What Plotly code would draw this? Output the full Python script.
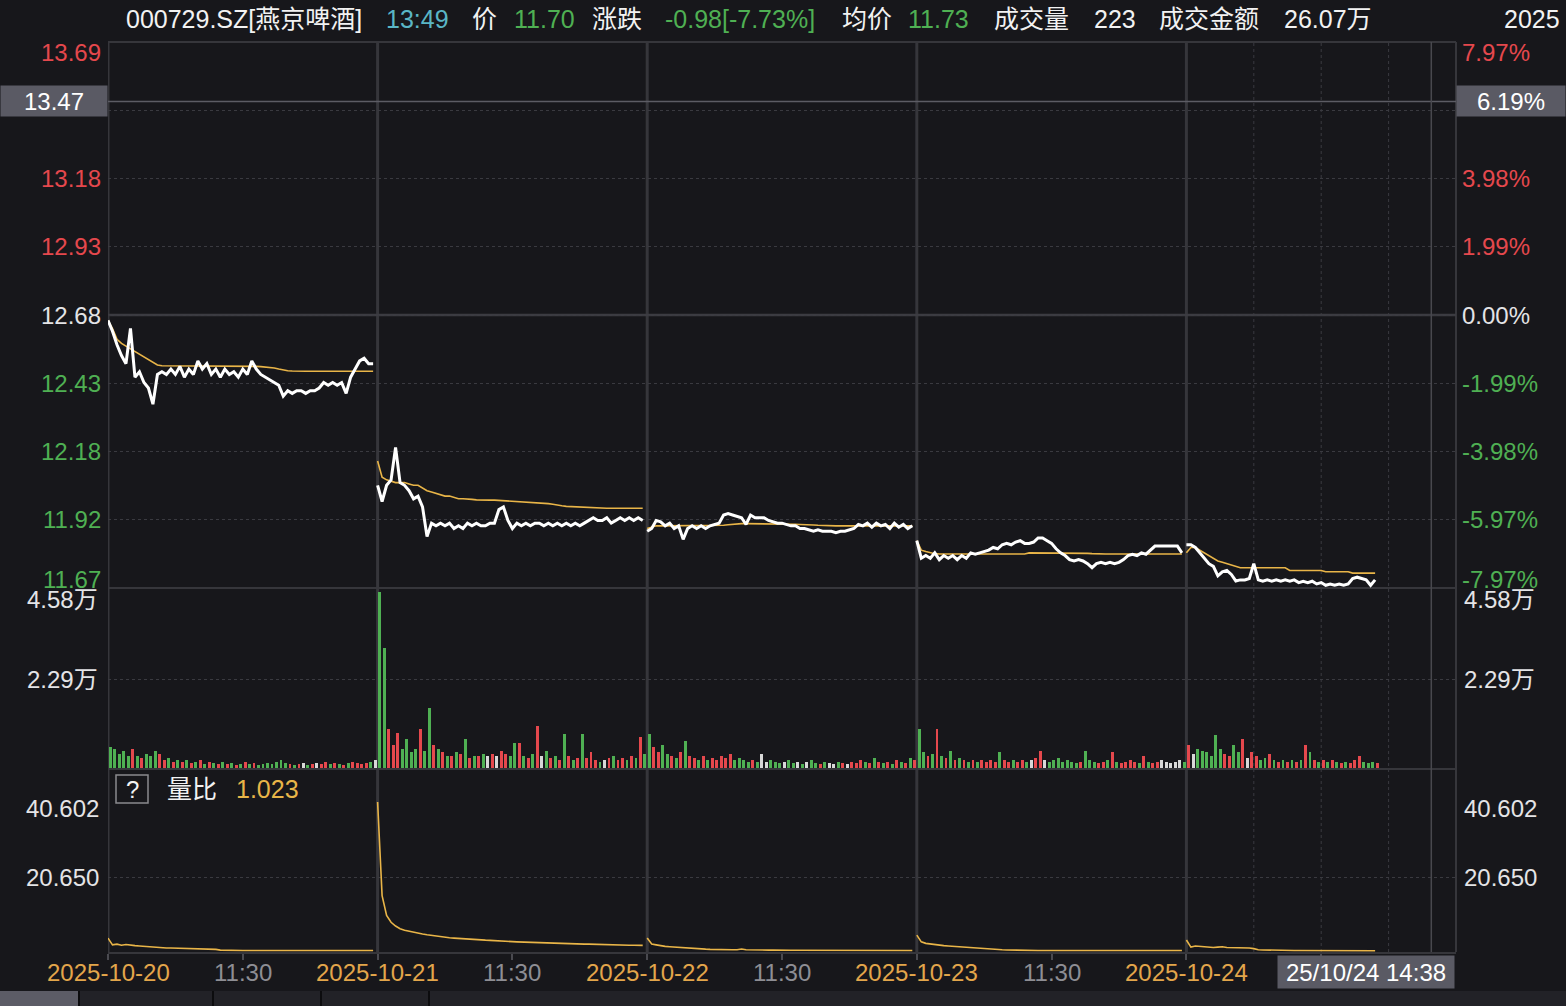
import plotly.graph_objects as go

# ---------------- data ----------------
dates = ["2025-10-20", "2025-10-21", "2025-10-22", "2025-10-23", "2025-10-24"]
step_minutes = 4
minutes_per_day = 240
prev_close = 12.68

price_d1 = [12.66, 12.62, 12.57, 12.53, 12.50, 12.63, 12.45, 12.47, 12.43, 12.41,
            12.35, 12.46, 12.47, 12.46, 12.48, 12.46, 12.49, 12.45, 12.48, 12.46,
            12.51, 12.48, 12.50, 12.46, 12.48, 12.45, 12.48, 12.46, 12.47, 12.45,
            12.48, 12.46, 12.51, 12.48, 12.46, 12.45, 12.44, 12.43, 12.42, 12.38,
            12.40, 12.39, 12.40, 12.40, 12.39, 12.40, 12.40, 12.41, 12.43, 12.42,
            12.43, 12.42, 12.43, 12.39, 12.45, 12.48, 12.51, 12.52, 12.50, 12.50]
price_d2 = [12.05, 11.99, 12.05, 12.07, 12.19, 12.06, 12.05, 12.03, 12.00, 12.01,
            11.97, 11.86, 11.91, 11.90, 11.91, 11.90, 11.91, 11.89, 11.90, 11.89,
            11.91, 11.90, 11.91, 11.90, 11.90, 11.91, 11.91, 11.96, 11.97, 11.92,
            11.89, 11.91, 11.90, 11.91, 11.90, 11.91, 11.91, 11.90, 11.91, 11.90,
            11.91, 11.90, 11.91, 11.90, 11.91, 11.90, 11.91, 11.92, 11.93, 11.92,
            11.92, 11.93, 11.91, 11.92, 11.93, 11.92, 11.93, 11.92, 11.93, 11.92]
price_d3 = [11.88, 11.89, 11.92, 11.915, 11.90, 11.91, 11.89, 11.90, 11.85, 11.89,
            11.90, 11.89, 11.90, 11.89, 11.90, 11.905, 11.91, 11.94, 11.945, 11.94,
            11.935, 11.93, 11.905, 11.94, 11.93, 11.93, 11.93, 11.92, 11.915, 11.91,
            11.91, 11.905, 11.90, 11.90, 11.89, 11.89, 11.885, 11.88, 11.885, 11.88,
            11.88, 11.88, 11.875, 11.88, 11.88, 11.885, 11.89, 11.905, 11.90, 11.91,
            11.895, 11.91, 11.90, 11.905, 11.89, 11.91, 11.895, 11.905, 11.89, 11.90]
price_d4 = [11.845, 11.78, 11.79, 11.78, 11.80, 11.775, 11.79, 11.78, 11.79, 11.775,
            11.79, 11.78, 11.80, 11.795, 11.80, 11.805, 11.81, 11.82, 11.815, 11.83,
            11.835, 11.83, 11.84, 11.845, 11.835, 11.835, 11.84, 11.855, 11.855, 11.845,
            11.835, 11.815, 11.80, 11.79, 11.775, 11.77, 11.775, 11.77, 11.76, 11.745,
            11.76, 11.765, 11.76, 11.765, 11.76, 11.765, 11.775, 11.79, 11.795, 11.79,
            11.80, 11.795, 11.81, 11.825, 11.825, 11.825, 11.825, 11.825, 11.825, 11.80]
price_d5 = [11.83, 11.83, 11.82, 11.80, 11.78, 11.76, 11.75, 11.715, 11.73, 11.735,
            11.72, 11.696, 11.70, 11.70, 11.705, 11.76, 11.70, 11.695, 11.70, 11.695,
            11.70, 11.695, 11.70, 11.695, 11.70, 11.69, 11.695, 11.69, 11.695, 11.685,
            11.69, 11.68, 11.685, 11.68, 11.685, 11.68, 11.685, 11.705, 11.71, 11.705,
            11.70, 11.68, 11.70]

avg_d1 = [12.66, 12.63, 12.59, 12.575, 12.565, 12.555, 12.545, 12.535, 12.525, 12.515,
          12.505, 12.495, 12.492, 12.492, 12.492, 12.492, 12.492, 12.492, 12.492, 12.492,
          12.492, 12.492, 12.492, 12.492, 12.492, 12.492, 12.492, 12.491, 12.491, 12.491,
          12.491, 12.490, 12.490, 12.490, 12.489, 12.488, 12.486, 12.484, 12.480, 12.476,
          12.474, 12.473, 12.472, 12.472, 12.472, 12.472, 12.472, 12.472, 12.472, 12.472,
          12.472, 12.472, 12.472, 12.472, 12.472, 12.472, 12.472, 12.472, 12.472, 12.472]
avg_d2 = [12.14, 12.08, 12.07, 12.065, 12.06, 12.06, 12.06, 12.055, 12.05, 12.05,
          12.04, 12.03, 12.025, 12.02, 12.015, 12.01, 12.01, 12.005, 12.0, 12.0,
          12.0, 11.998, 11.996, 11.995, 11.995, 11.995, 11.995, 11.994, 11.993, 11.992,
          11.99, 11.99, 11.99, 11.988, 11.986, 11.985, 11.984, 11.983, 11.982, 11.98,
          11.976, 11.974, 11.972, 11.971, 11.97, 11.97, 11.97, 11.969, 11.968, 11.967,
          11.966, 11.965, 11.965, 11.965, 11.965, 11.965, 11.965, 11.965, 11.965, 11.965]
avg_d3 = [11.89, 11.895, 11.90, 11.90, 11.90, 11.90, 11.90, 11.90, 11.90, 11.90,
          11.90, 11.90, 11.90, 11.90, 11.90, 11.90, 11.90, 11.902, 11.904, 11.906,
          11.907, 11.908, 11.908, 11.908, 11.908, 11.908, 11.908, 11.908, 11.908, 11.907,
          11.907, 11.907, 11.906, 11.906, 11.905, 11.905, 11.904, 11.903, 11.902, 11.901,
          11.90, 11.90, 11.90, 11.90, 11.90, 11.90, 11.90, 11.90, 11.90, 11.90,
          11.90, 11.90, 11.90, 11.90, 11.90, 11.90, 11.90, 11.90, 11.90, 11.90]
avg_d4 = [11.845, 11.81, 11.805, 11.80, 11.797, 11.796, 11.796, 11.796, 11.796, 11.796,
          11.796, 11.796, 11.796, 11.796, 11.796, 11.796, 11.796, 11.796, 11.796, 11.796,
          11.796, 11.796, 11.796, 11.796, 11.796, 11.80, 11.80, 11.80, 11.80, 11.80,
          11.80, 11.80, 11.80, 11.80, 11.80, 11.80, 11.80, 11.80, 11.798, 11.797,
          11.796, 11.796, 11.796, 11.796, 11.796, 11.796, 11.796, 11.796, 11.796, 11.796,
          11.796, 11.796, 11.796, 11.796, 11.796, 11.796, 11.796, 11.796, 11.796, 11.796]
avg_d5 = [11.80, 11.82, 11.82, 11.81, 11.80, 11.79, 11.78, 11.77, 11.765, 11.76,
          11.755, 11.75, 11.745, 11.745, 11.745, 11.745, 11.745, 11.745, 11.745, 11.745,
          11.745, 11.745, 11.745, 11.735, 11.735, 11.735, 11.735, 11.735, 11.735, 11.735,
          11.735, 11.73, 11.73, 11.73, 11.73, 11.73, 11.73, 11.725, 11.725, 11.725,
          11.725, 11.725, 11.725]

# volume in 万
vol_d1 = [0.55, 0.5, 0.35, 0.45, 0.3, 0.5, 0.3, 0.25, 0.35, 0.3,
          0.45, 0.35, 0.2, 0.25, 0.15, 0.2, 0.15, 0.2, 0.12, 0.15,
          0.2, 0.1, 0.15, 0.12, 0.1, 0.15, 0.1, 0.12, 0.08, 0.1,
          0.15, 0.1, 0.12, 0.08, 0.1, 0.12, 0.1, 0.15, 0.2, 0.12,
          0.1, 0.08, 0.1, 0.12, 0.08, 0.1, 0.12, 0.1, 0.15, 0.1,
          0.12, 0.1, 0.08, 0.12, 0.15, 0.12, 0.1, 0.12, 0.15, 0.2]
vol_d2 = [4.52, 3.1, 1.0, 0.6, 0.9, 0.5, 0.75, 0.4, 0.5, 1.0,
          0.45, 1.55, 0.6, 0.5, 0.4, 0.3, 0.3, 0.4, 0.35, 0.75,
          0.25, 0.3, 0.3, 0.35, 0.3, 0.35, 0.3, 0.45, 0.35, 0.3,
          0.65, 0.65, 0.3, 0.25, 0.35, 1.08, 0.3, 0.45, 0.25, 0.3,
          0.2, 0.87, 0.3, 0.2, 0.25, 0.87, 0.25, 0.4, 0.2, 0.15,
          0.2, 0.25, 0.3, 0.2, 0.25, 0.2, 0.3, 0.25, 0.8, 0.35]
vol_d3 = [0.87, 0.55, 0.4, 0.6, 0.35, 0.3, 0.25, 0.4, 0.7, 0.3,
          0.25, 0.2, 0.3, 0.2, 0.25, 0.2, 0.3, 0.25, 0.35, 0.2,
          0.25, 0.2, 0.15, 0.2, 0.15, 0.35, 0.15, 0.2, 0.15, 0.12,
          0.15, 0.2, 0.12, 0.15, 0.1, 0.15, 0.2, 0.12, 0.1, 0.15,
          0.12, 0.1, 0.15, 0.12, 0.1, 0.15, 0.12, 0.2, 0.15, 0.12,
          0.25, 0.15, 0.12, 0.15, 0.1, 0.2, 0.15, 0.12, 0.25, 0.2]
vol_d4 = [1.0, 0.4, 0.3, 0.35, 1.0, 0.3, 0.25, 0.45, 0.2, 0.25,
          0.2, 0.15, 0.2, 0.15, 0.2, 0.15, 0.2, 0.15, 0.4, 0.2,
          0.15, 0.2, 0.15, 0.2, 0.15, 0.2, 0.25, 0.45, 0.2, 0.15,
          0.2, 0.25, 0.15, 0.2, 0.15, 0.12, 0.15, 0.45, 0.2, 0.15,
          0.12, 0.15, 0.2, 0.4, 0.15, 0.12, 0.15, 0.2, 0.15, 0.12,
          0.3, 0.15, 0.12, 0.15, 0.2, 0.15, 0.12, 0.15, 0.2, 0.15]
vol_d5 = [0.6, 0.35, 0.5, 0.45, 0.4, 0.3, 0.85, 0.5, 0.35, 0.3,
          0.6, 0.4, 0.75, 0.25, 0.4, 0.3, 0.2, 0.25, 0.35, 0.2,
          0.15, 0.2, 0.15, 0.2, 0.15, 0.2, 0.6, 0.4, 0.2, 0.15,
          0.2, 0.15, 0.2, 0.15, 0.12, 0.15, 0.12, 0.2, 0.3, 0.15,
          0.12, 0.15, 0.12]

# 量比
ratio_d1 = [4.4, 2.6, 2.8, 2.5, 2.7, 2.5, 2.4, 2.3, 2.2, 2.0,
            1.9, 1.8, 1.8, 1.75, 1.75, 1.7, 1.7, 1.7, 1.65, 1.65,
            1.6, 1.6, 1.55, 1.5, 1.4, 1.2, 1.15, 1.15, 1.1, 1.1,
            1.1, 1.1, 1.1, 1.1, 1.1, 1.1, 1.1, 1.1, 1.1, 1.1,
            1.1, 1.1, 1.1, 1.1, 1.1, 1.1, 1.1, 1.1, 1.1, 1.1,
            1.1, 1.1, 1.1, 1.1, 1.1, 1.1, 1.1, 1.1, 1.1, 1.1]
ratio_d2 = [40.602, 15.7, 10.4, 8.6, 7.6, 6.9, 6.5, 6.2, 5.9, 5.7,
            5.5, 5.3, 5.1, 4.9, 4.8, 4.6, 4.5, 4.4, 4.3, 4.2,
            4.1, 4.0, 3.95, 3.9, 3.85, 3.8, 3.7, 3.65, 3.6, 3.5,
            3.45, 3.4, 3.35, 3.3, 3.3, 3.25, 3.2, 3.15, 3.1, 3.1,
            3.05, 3.0, 3.0, 2.95, 2.9, 2.85, 2.8, 2.8, 2.75, 2.7,
            2.7, 2.65, 2.6, 2.6, 2.55, 2.55, 2.5, 2.5, 2.45, 2.45]
ratio_d3 = [4.4, 2.8, 2.6, 2.3, 2.2, 2.1, 2.0, 1.9, 1.8, 1.75,
            1.7, 1.6, 1.5, 1.45, 1.4, 1.35, 1.3, 1.3, 1.3, 1.3,
            1.3, 1.5, 1.3, 1.25, 1.25, 1.2, 1.2, 1.2, 1.2, 1.15,
            1.15, 1.15, 1.15, 1.15, 1.15, 1.15, 1.15, 1.15, 1.15, 1.15,
            1.1, 1.1, 1.1, 1.1, 1.1, 1.1, 1.1, 1.1, 1.1, 1.1,
            1.1, 1.1, 1.1, 1.1, 1.1, 1.1, 1.1, 1.1, 1.1, 1.1]
ratio_d4 = [5.2, 3.4, 3.0, 2.8, 2.6, 2.5, 2.4, 2.3, 2.2, 2.1,
            2.0, 1.95, 1.9, 1.8, 1.75, 1.7, 1.6, 1.5, 1.4, 1.3,
            1.25, 1.2, 1.2, 1.15, 1.15, 1.15, 1.15, 1.1, 1.1, 1.1,
            1.1, 1.1, 1.1, 1.1, 1.1, 1.1, 1.1, 1.1, 1.1, 1.1,
            1.1, 1.1, 1.1, 1.1, 1.1, 1.1, 1.1, 1.1, 1.1, 1.1,
            1.1, 1.1, 1.1, 1.1, 1.1, 1.1, 1.1, 1.1, 1.1, 1.1]
ratio_d5 = [3.9, 2.0, 2.3, 2.2, 2.0, 2.1, 1.9, 2.0, 2.1, 1.9,
            1.9, 1.85, 1.8, 1.8, 1.75, 1.6, 1.3, 1.25, 1.2, 1.2,
            1.2, 1.15, 1.15, 1.15, 1.1, 1.1, 1.1, 1.1, 1.1, 1.1,
            1.1, 1.05, 1.05, 1.05, 1.05, 1.05, 1.05, 1.03, 1.03, 1.03,
            1.023, 1.023, 1.023]

prices = [price_d1, price_d2, price_d3, price_d4, price_d5]
avgs = [avg_d1, avg_d2, avg_d3, avg_d4, avg_d5]
volumes = [vol_d1, vol_d2, vol_d3, vol_d4, vol_d5]
ratios = [ratio_d1, ratio_d2, ratio_d3, ratio_d4, ratio_d5]

# axis ticks / labels
price_grid_vals = [13.69, 13.4375, 13.185, 12.9325, 12.68, 12.4275, 12.175, 11.9225, 11.67]
price_label_vals = [13.69, 13.185, 12.9325, 12.68, 12.4275, 12.175, 11.9225, 11.67]
price_label_text = ["13.69", "13.18", "12.93", "12.68", "12.43", "12.18", "11.92", "11.67"]
pct_label_text = ["7.97%", "3.98%", "1.99%", "0.00%", "-1.99%", "-3.98%", "-5.97%", "-7.97%"]
vol_range = [0, 4.58]
vol_label_vals = [4.58, 2.29]
vol_label_text = ["4.58万", "2.29万"]
ratio_range = [0.698, 40.602]
ratio_label_vals = [40.602, 20.650]
ratio_label_text = ["40.602", "20.650"]
x_tick_vals = [0, 120, 240, 360, 480, 600, 720, 840, 960, 1080]
x_label_vals = [0, 120, 240, 360, 480, 600, 720, 840, 960]
x_label_text = ["2025-10-20", "11:30", "2025-10-21", "11:30", "2025-10-22", "11:30",
                "2025-10-23", "11:30", "2025-10-24"]
x_range = [0, 1200]

# header
stock_name = "000729.SZ[燕京啤酒]"
last_time = "13:49"
last_price = "11.70"
change_text = "-0.98[-7.73%]"
avg_price_text = "11.73"
volume_text = "223"
amount_text = "26.07万"
year_text = "2025"
ratio_value_text = "1.023"

# crosshair
cross_price = 13.47
cross_price_text = "13.47"
cross_pct_text = "6.19%"
cross_x = 4 * 240 + 218
cross_time_text = "25/10/24 14:38"

# ---------------- styles ----------------
BG = "#17171b"
GRID = "#3a3a40"
SEP = "#36363b"
WHITE = "#f2f2f2"
LABEL = "#e4e4e6"
RED = "#e5484d"
GREEN = "#4fb053"
TEAL = "#5ab6c6"
ORANGE = "#e3a64b"
GRAYTXT = "#8e8e94"
YELLOW = "#e9b548"
FONT = "Liberation Sans, Noto Sans CJK SC, sans-serif"
HS = 25   # header font size
TS = 24   # tick label font size

L, T, W, H = 108, 42, 1348, 910


def px(x):
    return (x - L) / W


def py(y):
    return (T + H - y) / H


def build(series_list):
    xs, ys = [], []
    for d, vals in enumerate(series_list):
        for i, v in enumerate(vals):
            xs.append(d * minutes_per_day + i * step_minutes)
            ys.append(v)
        xs.append(None)
        ys.append(None)
    return xs, ys


fig = go.Figure()

# volume bars
vx, vy, vc = [], [], []
last = prev_close
for d in range(5):
    for i, v in enumerate(volumes[d]):
        p = prices[d][i]
        ref = prices[d][i - 1] if i > 0 else last
        if p > ref:
            c = RED
        elif p < ref:
            c = GREEN
        else:
            c = "#d8d8d8"
        vx.append(d * minutes_per_day + i * step_minutes + step_minutes / 2)
        vy.append(v)
        vc.append(c)
    last = prices[d][-1]
fig.add_trace(go.Bar(x=vx, y=vy, marker=dict(color=vc, line=dict(width=0)), width=2.6,
                     xaxis="x2", yaxis="y2", hoverinfo="skip"))

ax, ay = build(avgs)
fig.add_trace(go.Scatter(x=ax, y=ay, mode="lines", line=dict(color=YELLOW, width=1.6),
                         xaxis="x", yaxis="y", hoverinfo="skip"))
pxs, pys = build(prices)
fig.add_trace(go.Scatter(x=pxs, y=pys, mode="lines", line=dict(color="#ffffff", width=3),
                         xaxis="x", yaxis="y", hoverinfo="skip"))
rx, ry = build(ratios)
fig.add_trace(go.Scatter(x=rx, y=ry, mode="lines", line=dict(color=YELLOW, width=1.6),
                         xaxis="x3", yaxis="y3", hoverinfo="skip", cliponaxis=False))

shapes = []
# day separators
for d in range(5):
    shapes.append(dict(type="line", xref="x", yref="paper", x0=d * minutes_per_day, x1=d * minutes_per_day,
                       y0=0, y1=1, line=dict(color=SEP, width=3), layer="below"))
# right border
shapes.append(dict(type="line", xref="paper", yref="paper", x0=1, x1=1, y0=0, y1=1,
                   line=dict(color=SEP, width=2), layer="below"))
# dotted hour lines in last day
for t in [60, 120, 180]:
    shapes.append(dict(type="line", xref="x", yref="paper", x0=4 * 240 + t, x1=4 * 240 + t, y0=0, y1=1,
                       line=dict(color=GRID, width=1, dash="dot"), layer="below"))
# panel separators
for yy in [1.0, 0.4, py(769)]:
    shapes.append(dict(type="line", xref="paper", yref="paper", x0=0, x1=1, y0=yy, y1=yy,
                       line=dict(color=SEP, width=2), layer="below"))
# previous close
shapes.append(dict(type="line", xref="paper", yref="y", x0=0, x1=1, y0=prev_close, y1=prev_close,
                   line=dict(color="#3c3c42", width=2.5), layer="below"))
# crosshair
shapes.append(dict(type="line", xref="paper", yref="y", x0=0, x1=1, y0=cross_price, y1=cross_price,
                   line=dict(color="#5c5c64", width=1.5)))
shapes.append(dict(type="line", xref="x", yref="paper", x0=cross_x, x1=cross_x, y0=0, y1=1,
                   line=dict(color="#48484e", width=1.5)))
# 量比 question box
shapes.append(dict(type="rect", xref="paper", yref="paper", x0=px(116), x1=px(148), y0=py(803), y1=py(775),
                   line=dict(color="#8a8a8e", width=1.5)))
# bottom tab strip
shapes.append(dict(type="rect", xref="paper", yref="paper", x0=px(0), x1=px(1566), y0=py(1006), y1=py(991),
                   line=dict(width=0), fillcolor="#222227"))
shapes.append(dict(type="rect", xref="paper", yref="paper", x0=px(0), x1=px(78), y0=py(1006), y1=py(991),
                   line=dict(width=0), fillcolor="#5c5c66"))
for xx in [79, 213, 321, 429]:
    shapes.append(dict(type="line", xref="paper", yref="paper", x0=px(xx), x1=px(xx), y0=py(1006), y1=py(991),
                       line=dict(color="#0c0c0e", width=2)))

ann = []


def text(x, y, s, color, size=TS, xanchor="left", xref="paper", yref="paper", yshift=0, **kw):
    ann.append(dict(x=x, y=y, xref=xref, yref=yref, text=s, showarrow=False, xanchor=xanchor,
                    yanchor="middle", yshift=yshift, font=dict(family=FONT, size=size, color=color), **kw))


# header
hy = py(19)
text(px(124), hy, stock_name, WHITE, HS)
text(px(384), hy, last_time, TEAL, HS)
text(px(470), hy, "价", WHITE, HS)
text(px(512), hy, last_price, GREEN, HS)
text(px(590), hy, "涨跌", WHITE, HS)
text(px(663), hy, change_text, GREEN, HS)
text(px(840), hy, "均价", WHITE, HS)
text(px(906), hy, avg_price_text, GREEN, HS)
text(px(992), hy, "成交量", WHITE, HS)
text(px(1092), hy, volume_text, WHITE, HS)
text(px(1157), hy, "成交金额", WHITE, HS)
text(px(1282), hy, amount_text, WHITE, HS)
text(px(1562), hy, year_text, WHITE, HS, xanchor="right")

# price / pct labels
vmax, vmin = max(price_label_vals), min(price_label_vals)
for v, lt, rt in zip(price_label_vals, price_label_text, pct_label_text):
    col = RED if v > prev_close + 1e-9 else (GREEN if v < prev_close - 1e-9 else LABEL)
    sh = -10 if v == vmax else (9 if v == vmin else 0)
    text(px(103), v, lt, col, TS, xanchor="right", yref="y", yshift=sh)
    text(px(1460), v, rt, col, TS, xanchor="left", yref="y", yshift=sh)

# volume labels
for v, t in zip(vol_label_vals, vol_label_text):
    sh = -9 if v == max(vol_label_vals) else 0
    text(px(100), v, t, LABEL, TS, xanchor="right", yref="y2", yshift=sh)
    text(px(1462), v, t, LABEL, TS, xanchor="left", yref="y2", yshift=sh)

# ratio labels
for v, t in zip(ratio_label_vals, ratio_label_text):
    sh = -6 if v == max(ratio_label_vals) else 0
    text(px(101), v, t, LABEL, TS, xanchor="right", yref="y3", yshift=sh)
    text(px(1462), v, t, LABEL, TS, xanchor="left", yref="y3", yshift=sh)

# 量比 header
text(px(132), py(789), "?", WHITE, TS, xanchor="center")
text(px(165), py(789), "量比", WHITE, HS)
text(px(234), py(789), ratio_value_text, YELLOW, HS)

# x tick labels
for v, t in zip(x_label_vals, x_label_text):
    col = GRAYTXT if ":" in t else ORANGE
    text(v, py(973), t, col, TS, xanchor="center", xref="x3")

# crosshair labels
ann.append(dict(x=px(54), y=cross_price, xref="paper", yref="y", text=cross_price_text, showarrow=False,
                xanchor="center", yanchor="middle", width=104, height=28, bgcolor="#5a5a64",
                font=dict(family=FONT, size=TS, color="#ffffff")))
ann.append(dict(x=px(1511), y=cross_price, xref="paper", yref="y", text=cross_pct_text, showarrow=False,
                xanchor="center", yanchor="middle", width=106, height=28, bgcolor="#5a5a64",
                font=dict(family=FONT, size=TS, color="#ffffff")))
ann.append(dict(x=px(1366), y=py(972), xref="paper", yref="paper", text=cross_time_text, showarrow=False,
                xanchor="center", yanchor="middle", width=174, height=30, bgcolor="#5a5a64",
                font=dict(family=FONT, size=TS, color="#ffffff")))

fig.update_layout(
    width=1566, height=1006,
    margin=dict(l=L, r=1566 - L - W, t=T, b=1006 - T - H),
    paper_bgcolor=BG, plot_bgcolor=BG, showlegend=False, bargap=0,
    xaxis=dict(domain=[0, 1], range=x_range, anchor="y", visible=False),
    xaxis2=dict(domain=[0, 1], range=x_range, anchor="y2", visible=False, matches="x"),
    xaxis3=dict(domain=[0, 1], range=x_range, anchor="y3", matches="x", showgrid=False, zeroline=False,
                showline=True, linecolor=SEP, linewidth=2, ticks="outside", ticklen=6, tickwidth=1.5,
                tickcolor="#4a4a50", tickvals=x_tick_vals, showticklabels=False),
    yaxis=dict(domain=[0.4, 1.0], range=[min(price_grid_vals), max(price_grid_vals)], tickvals=price_grid_vals,
               showticklabels=False, showgrid=True, gridcolor=GRID, griddash="dot", gridwidth=1, zeroline=False),
    yaxis2=dict(domain=[py(768), py(590)], range=vol_range, tickvals=[2.29], showticklabels=False,
                showgrid=True, gridcolor=GRID, griddash="dot", gridwidth=1, zeroline=False),
    yaxis3=dict(domain=[0, py(802)], range=ratio_range, tickvals=[20.650], showticklabels=False,
                showgrid=True, gridcolor=GRID, griddash="dot", gridwidth=1, zeroline=False),
    shapes=shapes,
    annotations=ann,
)

fig.write_html(
    "out.html",
    config={"displayModeBar": False},
    post_script="document.body.style.margin='0';document.body.style.padding='0';"
                "document.body.style.background='" + BG + "';"
                "document.documentElement.style.background='" + BG + "';",
)
